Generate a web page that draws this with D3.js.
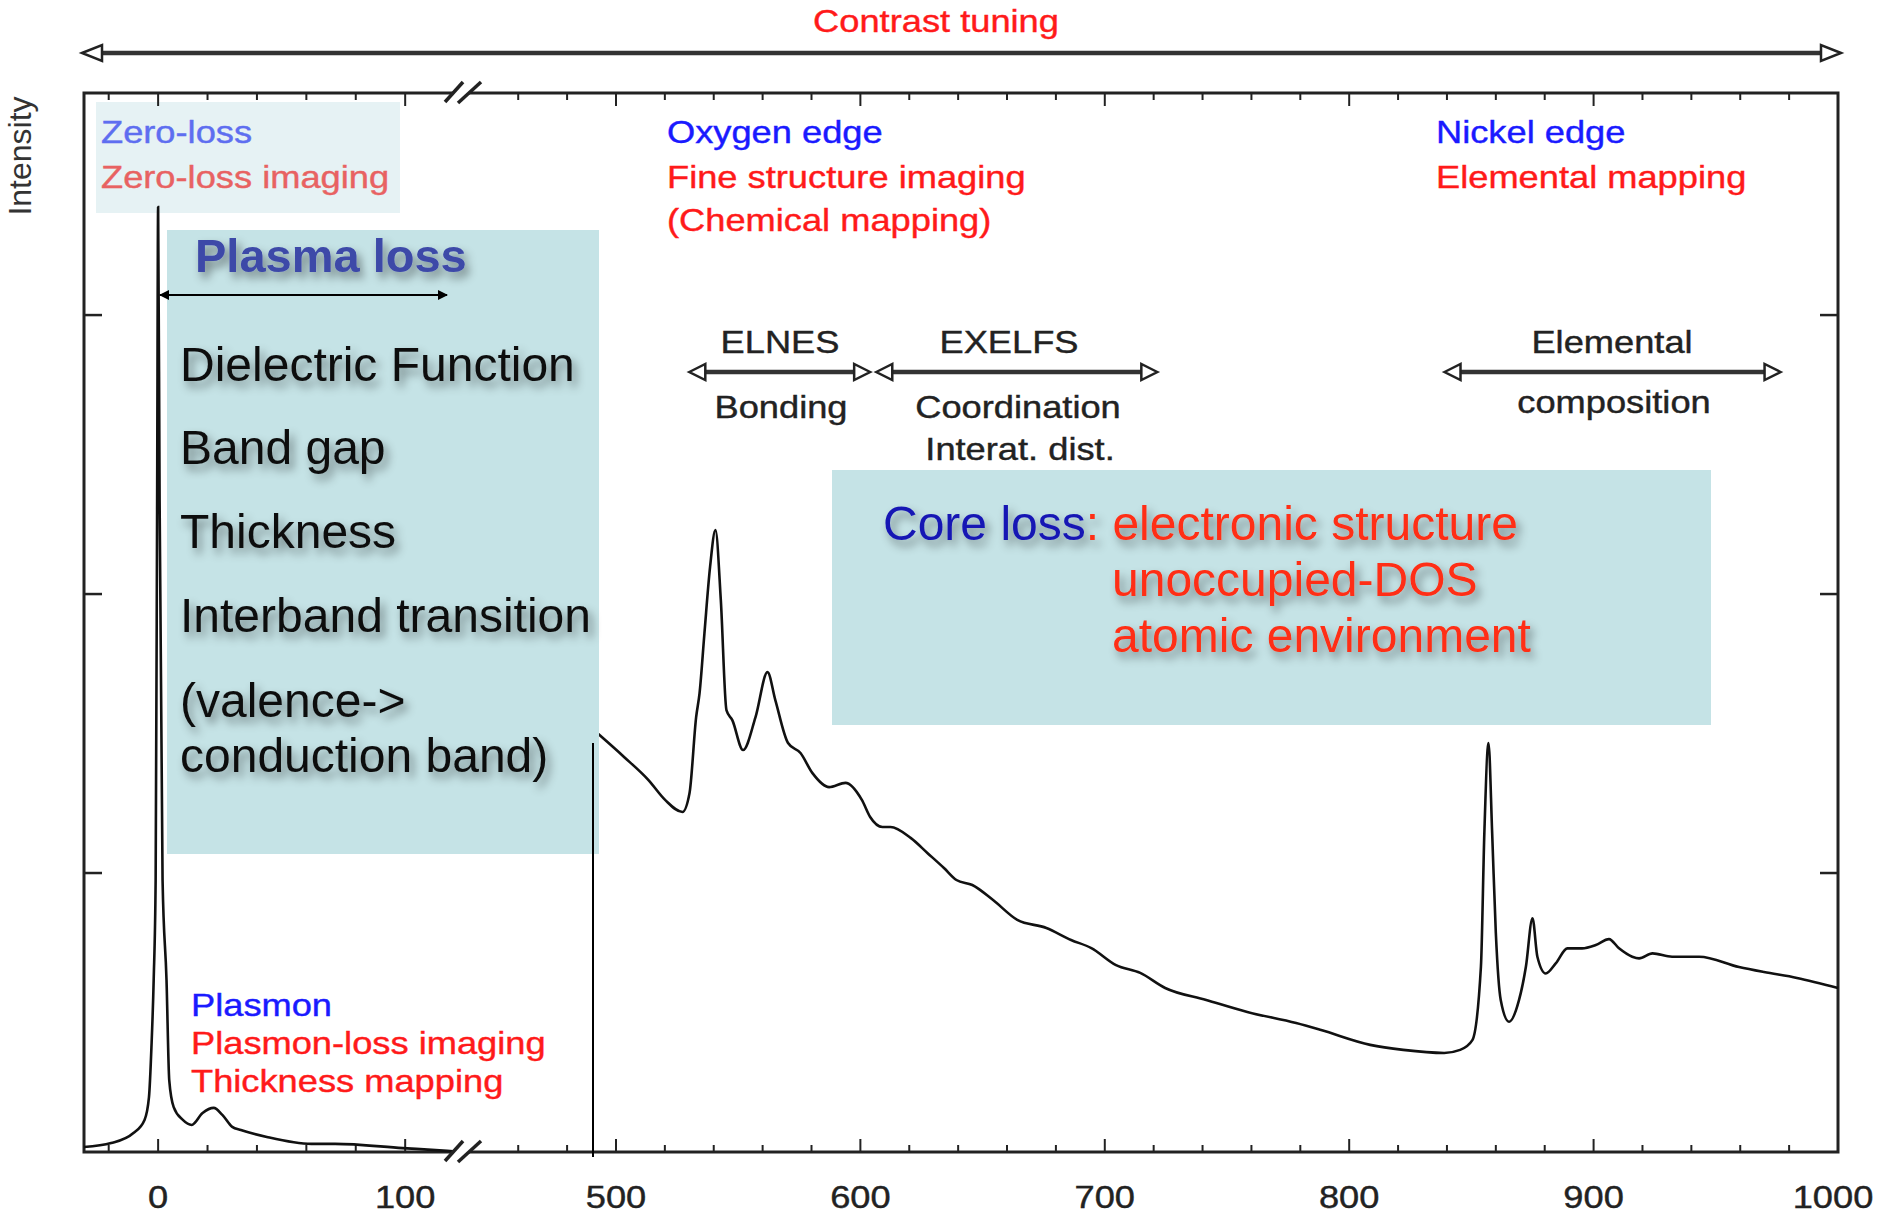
<!DOCTYPE html>
<html>
<head>
<meta charset="utf-8">
<script src="https://cdn.jsdelivr.net/npm/d3@7"></script>
<style>
  body { margin: 0; background: #fff; }
  svg text { font-family: "Liberation Sans", Arial, sans-serif; }
</style>
</head>
<body>
<svg id="chart" width="1886" height="1216"></svg>
<script>
// EELS spectrum, low loss part (eV, intensity)
var lowE = [-30, -19, -10, -5.5, -3.7, -2.7, -1.8, -1.0, -0.4, 0, 0.6, 1.8, 3.4, 4.5, 6.3, 10, 13.6, 18, 22.5, 26, 30, 33.5, 44, 62, 71.6, 99, 117, 123];
var lowI = [0.018, 0.032, 0.068, 0.115, 0.197, 0.376, 0.616, 0.975, 2.337, 3.387, 2.337, 0.975, 0.616, 0.258, 0.161, 0.115, 0.097, 0.14, 0.158, 0.133, 0.09, 0.079, 0.054, 0.029, 0.029, 0.014, 0.004, 0];

// core loss part (O K edge, Ni L edges)
var coreE = [492.8, 503.3, 513.3, 520.1, 527.2, 530.1, 532.8, 534.2, 536.2, 538.5, 540.7, 542.9, 545.2, 547.6, 552.0, 557.1, 562.0, 565.2, 570.4, 575.5, 580.4, 587.2, 593.9, 600.6, 604.0, 609.0, 612.3, 620.7, 627.4, 634.2, 639.3, 645.8, 654.3, 664.2, 676.1, 686.2, 694.5, 704.6, 714.5, 724.7, 741.5, 758.3, 778.3, 788.5, 808.6, 822.1, 838.9, 845.4, 850.4, 853.9, 855.3, 857.0, 858.5, 860.0, 862.0, 865.4, 869.5, 872.3, 875.0, 877.0, 880.4, 884.5, 889.3, 895.3, 900.9, 906.3, 910.4, 915.8, 918.6, 924.1, 932.1, 943.2, 959.5, 969.7, 983.2, 1000];
var coreI = [1.498, 1.416, 1.333, 1.262, 1.219, 1.287, 1.559, 1.645, 1.860, 2.097, 2.229, 1.978, 1.584, 1.548, 1.441, 1.559, 1.720, 1.620, 1.466, 1.430, 1.358, 1.308, 1.323, 1.262, 1.201, 1.165, 1.165, 1.125, 1.072, 1.018, 0.975, 0.957, 0.903, 0.832, 0.803, 0.760, 0.731, 0.670, 0.642, 0.588, 0.545, 0.502, 0.462, 0.437, 0.384, 0.366, 0.355, 0.366, 0.401, 0.664, 1.143, 1.466, 1.143, 0.785, 0.545, 0.467, 0.545, 0.664, 0.838, 0.700, 0.640, 0.676, 0.730, 0.730, 0.742, 0.763, 0.730, 0.700, 0.694, 0.712, 0.700, 0.700, 0.663, 0.645, 0.624, 0.588];

var tickLabels = [0, 100, 500, 600, 700, 800, 900, 1000];
var minorLow = [-20, 20, 40, 60, 80];
var minorCore = [460, 480, 520, 540, 560, 580, 620, 640, 660, 680, 720, 740, 760, 780, 820, 840, 860, 880, 920, 940, 960, 980];
var yTicks = [1, 2, 3];

var plasmaLines = ["Dielectric Function", "Band gap", "Thickness", "Interband transition", "(valence->", "conduction band)"];
var coreLines = ["electronic structure", "unoccupied-DOS", "atomic environment"];

var svg = d3.select("#chart");
var L = 84, R = 1838, T = 93, B = 1152;

// broken axis: two linear pieces glued at the break
var x = d3.scaleLinear().domain([-30, 123, 437, 1000]).range([L, 462, 462, R]);
var y = d3.scaleLinear().domain([0, 3.796]).range([B, T]);

var defs = svg.append("defs");
var f = defs.append("filter").attr("id", "shadow").attr("x", "-10%").attr("y", "-30%").attr("width", "130%").attr("height", "180%");
f.append("feDropShadow").attr("dx", 4).attr("dy", 6).attr("stdDeviation", 5).attr("flood-color", "#000").attr("flood-opacity", 0.45);

// zero-loss box (pale, behind everything)
svg.append("rect").attr("x", 96).attr("y", 102).attr("width", 304).attr("height", 111).attr("fill", "#e6f2f4");

// frame
var frame = svg.append("g").attr("stroke", "#222").attr("fill", "none");
frame.append("rect").attr("x", L).attr("y", T).attr("width", R - L).attr("height", B - T).attr("stroke-width", 3);

var allMinor = minorLow.concat(minorCore);
allMinor.forEach(function(v) {
  frame.append("line").attr("x1", x(v)).attr("x2", x(v)).attr("y1", B).attr("y2", B - 7).attr("stroke-width", 2);
  frame.append("line").attr("x1", x(v)).attr("x2", x(v)).attr("y1", T).attr("y2", T + 7).attr("stroke-width", 2);
});
tickLabels.forEach(function(v) {
  frame.append("line").attr("x1", x(v)).attr("x2", x(v)).attr("y1", B).attr("y2", B - 13).attr("stroke-width", 2);
  frame.append("line").attr("x1", x(v)).attr("x2", x(v)).attr("y1", T).attr("y2", T + 13).attr("stroke-width", 2);
});
yTicks.forEach(function(v) {
  frame.append("line").attr("x1", L).attr("x2", L + 18).attr("y1", y(v)).attr("y2", y(v)).attr("stroke-width", 2.5);
  frame.append("line").attr("x1", R).attr("x2", R - 18).attr("y1", y(v)).attr("y2", y(v)).attr("stroke-width", 2.5);
});

// figure text helper (original figure font is a bit wider than Arial)
function ftext(str, px, py, color, anchor) {
  return svg.append("text")
    .attr("transform", "translate(" + px + "," + py + ") scale(1.17,1)")
    .attr("text-anchor", anchor || "start")
    .attr("font-size", 31)
    .attr("fill", color)
    .attr("stroke", color).attr("stroke-width", 0.4)
    .text(str);
}

tickLabels.forEach(function(v) {
  ftext(v, x(v) - (v == 1000 ? 5 : 0), 1208, "#222", "middle");
});

// spectrum
var line = d3.line().x(function(d) { return x(d[0]); }).y(function(d) { return y(d[1]); }).curve(d3.curveMonotoneX);
var lowData = lowE.map(function(e, i) { return [e, lowI[i]]; });
var coreData = coreE.map(function(e, i) { return [e, coreI[i]]; });
svg.append("path").datum(lowData).attr("d", line).attr("fill", "none").attr("stroke", "#111").attr("stroke-width", 2.6);
svg.append("path").datum(coreData).attr("d", line).attr("fill", "none").attr("stroke", "#111").attr("stroke-width", 2.6);

// axis break marks
function breakMark(cy) {
  svg.append("path").attr("d", "M445," + (cy + 9) + "L463," + (cy - 11) + "L481," + (cy - 11) + "L458," + (cy + 10) + "Z").attr("fill", "#fff");
  svg.append("line").attr("x1", 445).attr("y1", cy + 9).attr("x2", 463).attr("y2", cy - 11).attr("stroke", "#222").attr("stroke-width", 3.5);
  svg.append("line").attr("x1", 458).attr("y1", cy + 10).attr("x2", 481).attr("y2", cy - 11).attr("stroke", "#222").attr("stroke-width", 3.5);
}
breakMark(T);
breakMark(B);

// highlight boxes
svg.append("rect").attr("x", 167).attr("y", 230).attr("width", 432).attr("height", 624).attr("fill", "#c5e3e6");
svg.append("rect").attr("x", 832).attr("y", 470).attr("width", 879).attr("height", 255).attr("fill", "#c5e3e6");

svg.append("line").attr("x1", 593).attr("x2", 593).attr("y1", 743).attr("y2", 1157).attr("stroke", "#000").attr("stroke-width", 2);

// arrows
function openHead(px, py, dir, w, h) {
  svg.append("path")
    .attr("d", "M" + px + "," + py + "L" + (px + dir * w) + "," + (py - h) + "L" + (px + dir * w) + "," + (py + h) + "Z")
    .attr("fill", "#fff").attr("stroke", "#222").attr("stroke-width", 2.5);
}
function dblArrow(x0, x1, py, w, h) {
  svg.append("line").attr("x1", x0 + 4).attr("x2", x1 - 4).attr("y1", py).attr("y2", py).attr("stroke", "#333").attr("stroke-width", 4.5);
  openHead(x0, py, 1, w, h);
  openHead(x1, py, -1, w, h);
}
dblArrow(82, 1841, 53, 20, 8);
dblArrow(x(530), x(604), 372, 16, 8);
dblArrow(x(606.5), x(721.5), 372, 16, 8);
dblArrow(x(839), x(976.5), 372, 16, 8);

ftext("Contrast tuning", 936, 32, "#ff1a1a", "middle");
ftext("Zero-loss", 101, 143, "#5e6ef0", "start");
ftext("Zero-loss imaging", 101, 188, "#e86262", "start");
ftext("Oxygen edge", 667, 143, "#1a1aff", "start");
ftext("Fine structure imaging", 667, 188, "#ff1a1a", "start");
ftext("(Chemical mapping)", 667, 231, "#ff1a1a", "start");
ftext("Nickel edge", 1436, 143, "#1a1aff", "start");
ftext("Elemental mapping", 1436, 188, "#ff1a1a", "start");
ftext("ELNES", 780, 353, "#222", "middle");
ftext("Bonding", 781, 418, "#222", "middle");
ftext("EXELFS", 1009, 353, "#222", "middle");
ftext("Coordination", 1018, 418, "#222", "middle");
ftext("Interat. dist.", 1020, 460, "#222", "middle");
ftext("Elemental", 1612, 353, "#222", "middle");
ftext("composition", 1614, 413, "#222", "middle");
ftext("Plasmon", 191, 1016, "#1a1aff", "start");
ftext("Plasmon-loss imaging", 191, 1054, "#ff1a1a", "start");
ftext("Thickness mapping", 191, 1092, "#ff1a1a", "start");

svg.append("text").attr("transform", "translate(31,156) rotate(-90)").attr("text-anchor", "middle")
  .attr("font-size", 32).attr("fill", "#333").text("Intensity");

// plasma loss box content
svg.append("text").attr("x", 195).attr("y", 272).attr("font-size", 47).attr("font-weight", "bold")
  .attr("fill", "#3d48a8").attr("filter", "url(#shadow)").text("Plasma loss");

defs.append("marker").attr("id", "tip").attr("viewBox", "0 0 10 10").attr("refX", 9).attr("refY", 5)
  .attr("markerWidth", 5).attr("markerHeight", 5).attr("orient", "auto-start-reverse")
  .append("path").attr("d", "M0,0L10,5L0,10Z").attr("fill", "#000");
svg.append("line").attr("x1", 160).attr("x2", 447).attr("y1", 295).attr("y2", 295).attr("stroke", "#000").attr("stroke-width", 2)
  .attr("marker-start", "url(#tip)").attr("marker-end", "url(#tip)");

var plasmaY = [381, 464, 548, 632, 717, 772];
plasmaLines.forEach(function(s, i) {
  svg.append("text").attr("x", 180).attr("y", plasmaY[i]).attr("font-size", 48).attr("fill", "#111")
    .attr("filter", "url(#shadow)").text(s);
});

// core loss box content
var core = svg.append("text").attr("x", 883).attr("y", 540).attr("font-size", 48).attr("filter", "url(#shadow)");
core.append("tspan").attr("fill", "#1414b4").text("Core loss");
core.append("tspan").attr("fill", "#ff2d12").text(": " + coreLines[0]);
svg.append("text").attr("x", 1112).attr("y", 596).attr("font-size", 48).attr("fill", "#ff2d12").attr("filter", "url(#shadow)").text(coreLines[1]);
svg.append("text").attr("x", 1112).attr("y", 652).attr("font-size", 48).attr("fill", "#ff2d12").attr("filter", "url(#shadow)").text(coreLines[2]);
</script>
</body>
</html>
